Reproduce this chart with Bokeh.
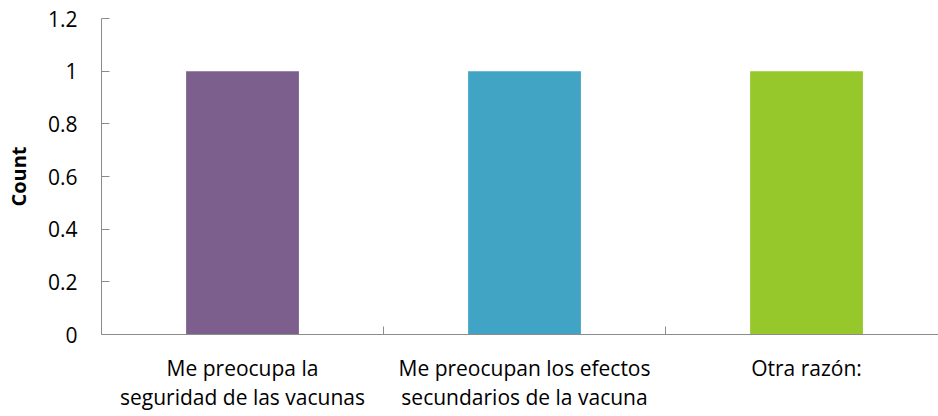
from bokeh.plotting import figure
from bokeh.models import Range1d, FixedTicker, ColumnDataSource
from bokeh.embed import file_html
from bokeh.resources import INLINE

categories = ["Me preocupa la\nseguridad de las vacunas",
              "Me preocupan los efectos\nsecundarios de la vacuna",
              "Otra razón:"]
counts = [1, 1, 1]
colors = ["#7D5F8E", "#42A4C4", "#97C82B"]
y_ticks = [0, 0.2, 0.4, 0.6, 0.8, 1.0, 1.2]
y_tick_labels = ["0", "0.2", "0.4", "0.6", "0.8", "1", "1.2"]

FONT = "Open Sans"
xs = [i + 0.5 for i in range(len(categories))]

p = figure(width=938, height=416, output_backend="svg", toolbar_location=None,
           x_range=Range1d(0, 2.968), y_range=Range1d(0, 1.2),
           min_border_left=101, min_border_right=0, min_border_top=18, min_border_bottom=82)
p.outline_line_color = None
p.xgrid.visible = False
p.ygrid.visible = False

src = ColumnDataSource(dict(x=xs, top=counts, color=colors))
p.vbar(x="x", top="top", bottom=0, width=0.40, fill_color="color", line_color=None, source=src)

axis_color = "#8C8C8C"
# x axis
xa = p.xaxis[0]
xa.ticker = FixedTicker(ticks=xs, minor_ticks=[i for i in range(1, len(categories))])
xa.major_label_overrides = {x: c for x, c in zip(xs, categories)}
xa.major_tick_in = 0
xa.major_tick_out = 0
xa.minor_tick_in = 8
xa.minor_tick_out = 0
xa.minor_tick_line_color = axis_color
xa.axis_line_color = axis_color
xa.major_label_text_font = FONT
xa.major_label_text_font_size = "21px"
xa.major_label_text_color = "#000000"
xa.major_label_text_line_height = 1.06
xa.major_label_standoff = 19

# y axis
ya = p.yaxis[0]
ya.ticker = FixedTicker(ticks=y_ticks, minor_ticks=[])
ya.major_label_overrides = {t: l for t, l in zip(y_ticks, y_tick_labels)}
ya.major_tick_in = 8
ya.major_tick_out = 0
ya.major_tick_line_color = axis_color
ya.axis_line_color = axis_color
ya.major_label_text_font = FONT
ya.major_label_text_font_size = "21px"
ya.major_label_text_color = "#000000"
ya.major_label_standoff = 24
ya.axis_label = "Count"
ya.axis_label_text_font = FONT
ya.axis_label_text_font_size = "20px"
ya.axis_label_text_font_style = "bold"
ya.axis_label_text_color = "#000000"
ya.axis_label_standoff = 13

open("out.html", "w").write(file_html(p, INLINE))
